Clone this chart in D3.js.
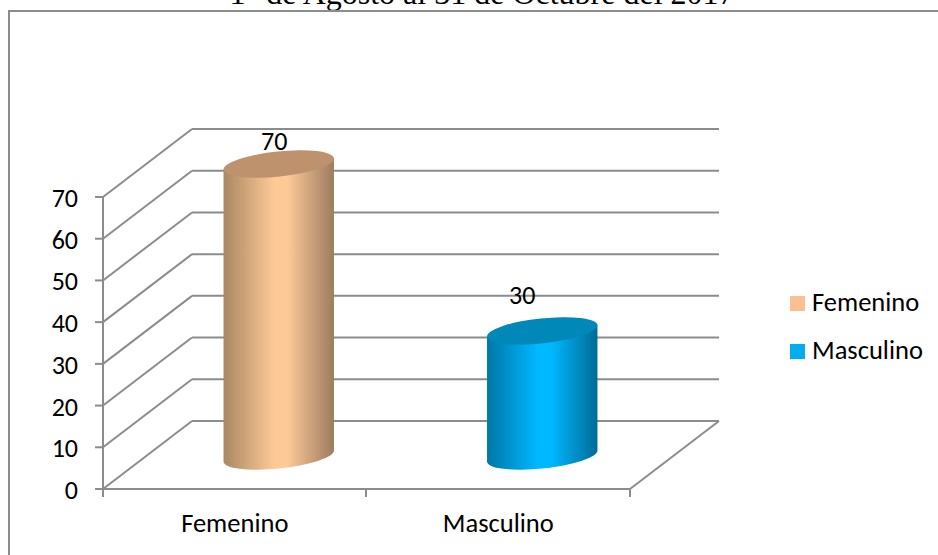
<!DOCTYPE html>
<html><head><meta charset="utf-8">
<script src="https://cdnjs.cloudflare.com/ajax/libs/d3/7.8.5/d3.min.js"></script>
<style>html,body{margin:0;padding:0;background:#fff;overflow:hidden}svg{display:block}</style>
</head><body><svg id="c" width="938" height="555"></svg>
<script>
const categories = ["Femenino", "Masculino"];
const values = [70, 30];
const yTicks = [0, 10, 20, 30, 40, 50, 60, 70];
const titleText = "1° de Agosto al 31 de Octubre del 2017";
const baseColors = ["#fdc997", "#00b8ff"];
const leftColors = ["#a98863", "#0077a6"];
const rightColors = ["#9c7c60", "#006b96"];
const topColors = ["#bf926e", "#0088b9"];
const legendColors = ["#fbbf90", "#00aeef"];

const svg = d3.select("#c");
const fontS = "Carlito, Calibri, 'Open Sans', 'Noto Sans', sans-serif";
const y = d3.scaleLinear().domain([0, 70]).range([489, 197]);
const x = d3.scaleBand().domain(categories).range([103, 630]);
const dx = 89, dy = -68;
const grey = "#8c8c8c";
const labelShift = [{x: -4.5, y: -14}, {x: -20, y: -27}];

const defs = svg.append("defs");
categories.forEach((c, i) => {
  const g = defs.append("linearGradient").attr("id", "g" + i);
  g.append("stop").attr("offset", "0%").attr("stop-color", leftColors[i]);
  g.append("stop").attr("offset", "46%").attr("stop-color", baseColors[i]);
  g.append("stop").attr("offset", "58%").attr("stop-color", baseColors[i]);
  g.append("stop").attr("offset", "100%").attr("stop-color", rightColors[i]);
});

svg.append("text").attr("x", 482).attr("y", 4).attr("text-anchor", "middle")
  .attr("font-family", "'Liberation Serif', serif").attr("font-size", 32).attr("fill", "#000").text(titleText);

svg.append("rect").attr("x", 9).attr("y", 11).attr("width", 945).attr("height", 560)
  .attr("fill", "#fff").attr("stroke", grey).attr("stroke-width", 2);

const line = (x1, y1, x2, y2, w = 2) => svg.append("line").attr("x1", x1).attr("y1", y1).attr("x2", x2).attr("y2", y2)
  .attr("stroke", grey).attr("stroke-width", w);
yTicks.forEach(t => {
  line(x.range()[0], y(t), x.range()[0] + dx, y(t) + dy);
  line(x.range()[0] + dx, y(t) + dy, x.range()[1] + dx, y(t) + dy);
  line(95, y(t), x.range()[0], y(t));
  svg.append("text").attr("x", 78).attr("y", y(t) + 10).attr("text-anchor", "end")
    .attr("font-family", fontS).attr("font-size", 26).text(t);
});
line(103, y(70), 103, 497);
line(103, 489, 630, 489);
line(630, 489, 719, 421);
[366, 630].forEach(p => line(p, 489, p, 497));

const rx = 55.5, ry = 12.5, rot = -6;
const cyl = (cx, cyTop, cyBot, i) => {
  const a = rot * Math.PI / 180;
  const t0 = Math.atan2(-ry * Math.sin(a), rx * Math.cos(a));
  const ex = rx * Math.cos(t0) * Math.cos(a) - ry * Math.sin(t0) * Math.sin(a);
  const ey = rx * Math.cos(t0) * Math.sin(a) + ry * Math.sin(t0) * Math.cos(a);
  svg.append("path").attr("fill", `url(#g${i})`)
    .attr("d", `M${cx - ex},${cyTop - ey}L${cx - ex},${cyBot - ey}A${rx},${ry} ${rot} 0 0 ${cx + ex},${cyBot + ey}L${cx + ex},${cyTop + ey}Z`);
  svg.append("ellipse").attr("cx", cx).attr("cy", cyTop).attr("rx", rx).attr("ry", ry)
    .attr("transform", `rotate(${rot} ${cx} ${cyTop})`).attr("fill", topColors[i]);
};
categories.forEach((c, i) => {
  const cx = x(c) + x.bandwidth() / 2 + 44;
  const yBase = y(0) + dy / 2 + 1;
  const yTop = y(values[i]) + dy / 2 + 1;
  cyl(cx, yTop, yBase, i);
  svg.append("text").attr("x", cx + labelShift[i].x).attr("y", yTop + labelShift[i].y).attr("text-anchor", "middle")
    .attr("font-family", fontS).attr("font-size", 26).text(values[i]);
  svg.append("text").attr("x", x(c) + x.bandwidth() / 2).attr("y", 532).attr("text-anchor", "middle")
    .attr("font-family", fontS).attr("font-size", 26.5).text(c);
});

categories.forEach((c, i) => {
  svg.append("rect").attr("x", 790).attr("y", 296 + i * 48).attr("width", 15).attr("height", 15).attr("fill", legendColors[i]);
  svg.append("text").attr("x", 812).attr("y", 311 + i * 48).attr("font-family", fontS).attr("font-size", 26.5).text(c);
});
</script></body></html>
